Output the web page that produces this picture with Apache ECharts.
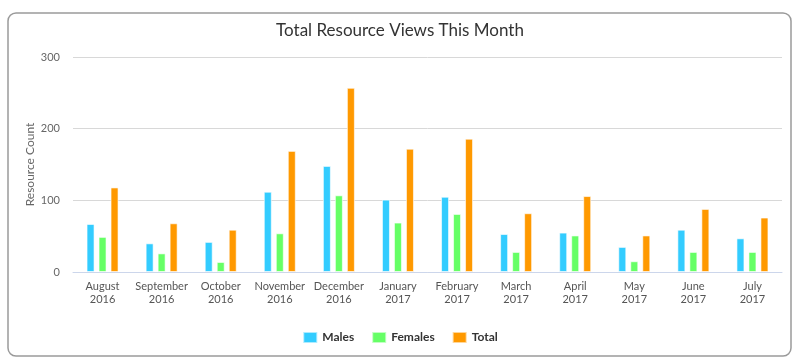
<!DOCTYPE html>
<html>
<head>
<meta charset="utf-8">
<script src="https://cdn.jsdelivr.net/npm/echarts@6/dist/echarts.min.js"></script>
<style>html,body{margin:0;padding:0;background:#fff;}#c{width:800px;height:364px;}</style>
</head>
<body>
<div id="c"></div>
<script>
var categories = ['August\n2016','September\n2016','October\n2016','November\n2016','December\n2016','January\n2017','February\n2017','March\n2017','April\n2017','May\n2017','June\n2017','July\n2017'];
var males = [67,40,42,112,148,101,105,53,55,35,59,47];
var females = [49,26,14,54,107,69,81,28,51,15,28,28];
var total = [118,68,59,169,257,172,186,82,106,51,88,76];
var yTicks = [0,100,200,300];

var FONT = 'Lato';
var chart = echarts.init(document.getElementById('c'), null, {renderer:'canvas'});
function bar(name, data, color){
  return {name:name, type:'bar', data:data, barWidth:8, barGap:'50%',
    itemStyle:{color:color, borderColor:'rgba(255,255,255,0.6)', borderWidth:1},
    emphasis:{disabled:true}};
}
chart.setOption({
  animation:false,
  textStyle:{fontFamily:FONT},
  graphic:[{type:'rect', shape:{x:8,y:13,width:783,height:343,r:8}, z:-1,
    style:{fill:'#fff', stroke:'#9a9a9a', lineWidth:1.5}}],
  title:{text:'Total Resource Views This Month', left:'center', top:17,
    textStyle:{fontFamily:FONT, fontSize:17, fontWeight:'normal', color:'#333'}},
  legend:{bottom:15, left:'center', itemWidth:14, itemHeight:11, itemGap:17,
    icon:'rect',
    textStyle:{fontFamily:FONT, fontSize:12, fontWeight:'bold', color:'#333'},
    data:['Males','Females','Total']},
  grid:{left:73, right:18, top:57, bottom:92},
  xAxis:{type:'category', data:categories,
    axisLine:{lineStyle:{color:'#ccd6eb'}},
    axisTick:{length:7, lineStyle:{color:'#ccd6eb'}},
    axisLabel:{fontFamily:FONT, fontSize:11, color:'#555', lineHeight:13, margin:8, interval:0}},
  yAxis:{type:'value', min:0, max:300, interval:100,
    name:'Resource Count', nameLocation:'middle', nameGap:37, nameMoveOverlap:false,
    nameTextStyle:{fontFamily:FONT, fontSize:12, color:'#666'},
    axisLine:{show:false}, axisTick:{show:false},
    axisLabel:{fontFamily:FONT, fontSize:11, color:'#666', margin:13,
      formatter:function(v){return yTicks.indexOf(v)>=0 ? String(v) : '';}},
    splitLine:{lineStyle:{color:'#d8d8d8'}}},
  series:[bar('Males', males, '#33ccff'), bar('Females', females, '#66ff66'), bar('Total', total, '#ff9900')]
});
</script>
</body>
</html>
